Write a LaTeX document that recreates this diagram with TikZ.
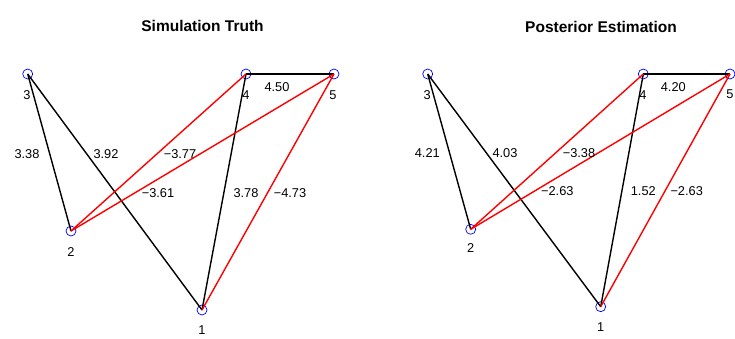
\documentclass[tikz,border=0pt]{standalone}
\usepackage{fontspec}
\setmainfont{Liberation Sans}
\begin{document}
\begin{tikzpicture}[x=1pt,y=-1pt,
  vert/.style={circle,draw=blue,line width=0.7pt,minimum size=10pt,inner sep=0pt},
  lbl/.style={inner sep=0pt,font=\fontsize{12.8}{14}\selectfont},
  ttl/.style={inner sep=0pt,font=\fontsize{15.5}{18}\selectfont\bfseries},
  posedge/.style={draw=black,line width=1.4pt},
  negedge/.style={draw=red,line width=1.4pt}]
\useasboundingbox (0,0) rectangle (735,339);
\fill[white] (0,0) rectangle (735,339);
% ---------- left panel ----------
\node[ttl] (tL) at (202.5,25.5) {Simulation Truth};
\node[vert] (L3) at (27.7,74) {};
\node[vert] (L4) at (246,74) {};
\node[vert] (L5) at (334,74) {};
\node[vert] (L2) at (71,231) {};
\node[vert] (L1) at (202,310) {};
\draw[posedge] (L3.center) -- (L2.center);
\draw[posedge] (L3.center) -- (L1.center);
\draw[posedge] (L4.center) -- (L5.center);
\draw[posedge] (L4.center) -- (L1.center);
\draw[negedge] (L2.center) -- (L4.center);
\draw[negedge] (L2.center) -- (L5.center);
\draw[negedge] (L5.center) -- (L1.center);
\node[lbl] (lL3) at (27,95) {3};
\node[lbl] (lL4) at (246,95) {4};
\node[lbl] (lL5) at (333,95) {5};
\node[lbl] (lL2) at (71,252) {2};
\node[lbl] (lL1) at (202,330) {1};
\node[lbl] (eL45) at (277,87) {4.50};
\node[lbl] (eL32) at (27,154) {3.38};
\node[lbl] (eL31) at (106,154) {3.92};
\node[lbl] (eL24) at (180,154) {−3.77};
\node[lbl] (eL25) at (158,193) {−3.61};
\node[lbl] (eL41) at (246,193) {3.78};
\node[lbl] (eL51) at (290,193) {−4.73};
% ---------- right panel ----------
\node[ttl] (tR) at (601,26.5) {Posterior Estimation};
\node[vert] (R3) at (427.7,74) {};
\node[vert] (R4) at (643.3,74) {};
\node[vert] (R5) at (730,74) {};
\node[vert] (R2) at (470.7,229.3) {};
\node[vert] (R1) at (600.7,306.7) {};
\draw[posedge] (R3.center) -- (R2.center);
\draw[posedge] (R3.center) -- (R1.center);
\draw[posedge] (R4.center) -- (R5.center);
\draw[posedge] (R4.center) -- (R1.center);
\draw[negedge] (R2.center) -- (R4.center);
\draw[negedge] (R2.center) -- (R5.center);
\draw[negedge] (R5.center) -- (R1.center);
\node[lbl] (lR3) at (427.3,95) {3};
\node[lbl] (lR4) at (643,95) {4};
\node[lbl] (lR5) at (730,94) {5};
\node[lbl] (lR2) at (470.7,248.3) {2};
\node[lbl] (lR1) at (600.7,326.7) {1};
\node[lbl] (eR45) at (673.3,87) {4.20};
\node[lbl] (eR32) at (427.3,152.7) {4.21};
\node[lbl] (eR31) at (505,152.7) {4.03};
\node[lbl] (eR24) at (579,152.7) {−3.38};
\node[lbl] (eR25) at (557.3,190.7) {−2.63};
\node[lbl] (eR41) at (643.3,190.7) {1.52};
\node[lbl] (eR51) at (686.7,190.7) {−2.63};
\end{tikzpicture}
\end{document}
